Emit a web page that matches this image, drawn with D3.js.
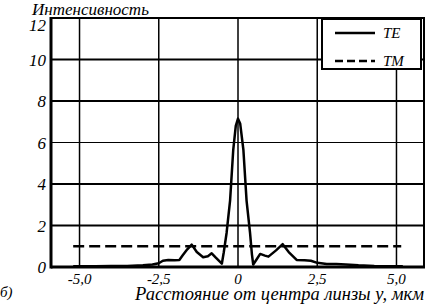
<!DOCTYPE html>
<html><head><meta charset="utf-8">
<script src="https://cdn.jsdelivr.net/npm/d3@7"></script>
<style>
html,body{margin:0;padding:0;background:#fff;}
svg{display:block;}
text{font-family:"Liberation Serif","Liberation Sans",Arial,sans-serif;font-style:italic;fill:#000;}
</style></head>
<body>
<svg id="c" width="426" height="304"></svg>
<script>
const teX = [-5.2,-4.5,-4.0,-3.5,-3.0,-2.7,-2.5,-2.37,-2.2,-2.0,-1.85,-1.75,-1.6,-1.46,-1.3,-1.1,-0.95,-0.83,-0.7,-0.51,-0.45,-0.36,-0.25,-0.15,-0.07,0.0,0.07,0.17,0.27,0.38,0.44,0.48,0.58,0.7,0.85,0.96,1.2,1.41,1.6,1.85,2.1,2.3,2.5,2.8,3.1,3.4,3.8,4.3,4.8,5.2];
const teY = [0.04,0.04,0.05,0.05,0.08,0.12,0.18,0.3,0.34,0.32,0.34,0.55,0.85,1.08,0.72,0.47,0.52,0.66,0.45,0.16,0.7,1.64,3.2,5.65,6.8,7.15,6.9,5.65,3.2,1.64,0.6,0.12,0.35,0.63,0.55,0.5,0.8,1.1,0.72,0.34,0.33,0.3,0.2,0.15,0.15,0.12,0.08,0.05,0.04,0.04];
const tmX = [-5.2, 5.15];
const tmY = [1.0, 1.0];
const xTicks = [-5, -2.5, 0, 2.5, 5];
const xTickLabels = ["-5,0", "-2,5", "0", "2,5", "5,0"];
const yTicks = [0, 2, 4, 6, 8, 10, 12];
const yTickLabels = ["0", "2", "4", "6", "8", "10", "12"];
const seriesNames = ["TE", "TM"];
const yTitle = "Интенсивность";
const xTitle = "Расстояние от центра линзы y, мкм";
const panelLabel = "б)";

const svg = d3.select("#c");
const x = d3.scaleLinear().domain([-5.9, 5.9]).range([51, 425]);
const y = d3.scaleLinear().domain([0, 12]).range([267, 18]);

// gridlines
svg.append("g").selectAll("line").data(xTicks).join("line")
  .attr("x1", d => x(d)).attr("x2", d => x(d))
  .attr("y1", y(12)).attr("y2", y(0))
  .attr("stroke", "#000").attr("stroke-width", 1.5);
svg.append("g").selectAll("line").data(yTicks.filter(v => v > 0 && v < 12)).join("line")
  .attr("x1", x(-5.9)).attr("x2", x(5.9))
  .attr("y1", d => y(d)).attr("y2", d => y(d))
  .attr("stroke", "#000").attr("stroke-width", d => d === 6 ? 1.2 : 2);

// frame
svg.append("line").attr("x1", x(-5.9)).attr("x2", x(5.9)).attr("y1", y(12)).attr("y2", y(12)).attr("stroke","#000").attr("stroke-width",2);
svg.append("line").attr("x1", x(5.9)-1).attr("x2", x(5.9)-1).attr("y1", y(12)).attr("y2", y(0)).attr("stroke","#000").attr("stroke-width",2);
svg.append("line").attr("x1", x(-5.9)).attr("x2", x(-5.9)).attr("y1", y(12)-1).attr("y2", y(0)+1.5).attr("stroke","#000").attr("stroke-width",3);
svg.append("line").attr("x1", x(-5.9)).attr("x2", x(5.9)).attr("y1", y(0)).attr("y2", y(0)).attr("stroke","#000").attr("stroke-width",3);

// series
const line = d3.line().x(d => x(d[0])).y(d => y(d[1]));
svg.append("path").datum(tmX.map((v,i)=>[v,tmY[i]])).attr("d", line)
  .attr("fill","none").attr("stroke","#000").attr("stroke-width",2.5).attr("stroke-dasharray","11,5");
svg.append("path").datum(teX.map((v,i)=>[v,teY[i]])).attr("d", line)
  .attr("fill","none").attr("stroke","#000").attr("stroke-width",2.5).attr("stroke-linejoin","round");

// tick labels
svg.append("g").selectAll("text").data(yTicks).join("text")
  .attr("x", 46).attr("y", d => Math.max(y(d) + 6, 31))
  .attr("text-anchor","end").attr("font-size",17)
  .text((d,i) => yTickLabels[i]);
svg.append("g").selectAll("text").data(xTicks).join("text")
  .attr("x", d => x(d)).attr("y", 284)
  .attr("text-anchor","middle").attr("font-size",15)
  .text((d,i) => xTickLabels[i]);

// titles
svg.append("text").attr("x", 32).attr("y", 15).attr("font-size", 17).text(yTitle);
svg.append("text").attr("x", 424).attr("y", 300).attr("text-anchor","end").attr("font-size", 18.5).text(xTitle);
svg.append("text").attr("x", 0).attr("y", 297).attr("font-size", 15).text(panelLabel);

// legend
const lg = svg.append("g");
lg.append("rect").attr("x", 322).attr("y", 19).attr("width", 99).attr("height", 50)
  .attr("fill","#fff").attr("stroke","#000").attr("stroke-width",2);
const ly = [33, 61];
lg.selectAll("line").data(seriesNames).join("line")
  .attr("x1", 335).attr("x2", 375).attr("y1", (d,i)=>ly[i]).attr("y2", (d,i)=>ly[i])
  .attr("stroke","#000").attr("stroke-width",2.5)
  .attr("stroke-dasharray", (d,i)=> i===1 ? "8,4" : null);
lg.selectAll("text").data(seriesNames).join("text")
  .attr("x", 383).attr("y", (d,i)=>ly[i]+5).attr("font-size",15).text(d=>d);
</script>
</body></html>
